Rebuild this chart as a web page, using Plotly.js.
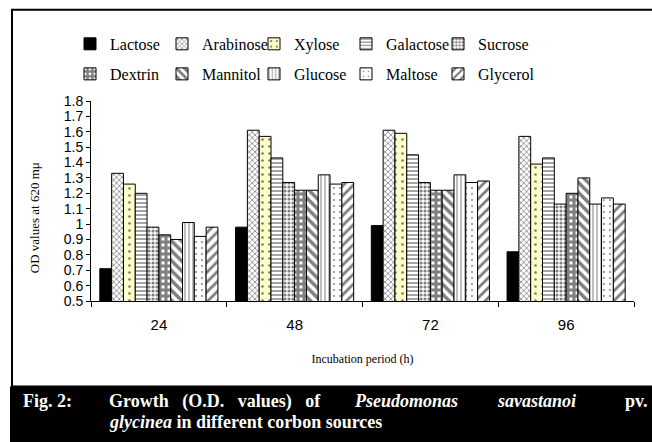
<!DOCTYPE html>
<html>
<head>
<meta charset="utf-8">
<script src="https://cdn.plot.ly/plotly-3.0.1.min.js"></script>
<style>html,body{margin:0;padding:0;background:#fff;}#chart{width:652px;height:442px;}</style>
</head>
<body>
<div id="chart"></div>
<script>
// Data
var periods = ['24', '48', '72', '96'];
var sources = ['Lactose', 'Arabinose', 'Xylose', 'Galactose', 'Sucrose',
               'Dextrin', 'Mannitol', 'Glucose', 'Maltose', 'Glycerol'];
var lactose   = [0.71, 0.98, 0.99, 0.82];
var arabinose = [1.33, 1.61, 1.61, 1.57];
var xylose    = [1.26, 1.57, 1.59, 1.39];
var galactose = [1.20, 1.43, 1.45, 1.43];
var sucrose   = [0.98, 1.27, 1.27, 1.13];
var dextrin   = [0.93, 1.22, 1.22, 1.20];
var mannitol  = [0.90, 1.22, 1.22, 1.30];
var glucose   = [1.01, 1.32, 1.32, 1.13];
var maltose   = [0.92, 1.26, 1.27, 1.17];
var glycerol  = [0.98, 1.27, 1.28, 1.13];
var yTickVals = [0.5,0.6,0.7,0.8,0.9,1.0,1.1,1.2,1.3,1.4,1.5,1.6,1.7,1.8];
var yTickText = ['0.5','0.6','0.7','0.8','0.9','1','1.1','1.2','1.3','1.4','1.5','1.6','1.7','1.8'];

var series = [lactose, arabinose, xylose, galactose, sucrose, dextrin, mannitol, glucose, maltose, glycerol];
var styles = [
  {bg:'#000000', shape:'',  size:8, sol:0.3},
  {bg:'#ffffff', shape:'x', size:4, sol:0.35},
  {bg:'#ffffcc', shape:'.', size:7, sol:0.12},
  {bg:'#ffffff', shape:'-', size:4, sol:0.35},
  {bg:'#ffffff', shape:'.', size:4, sol:0.5},
  {bg:'#ffffff', shape:'+', size:6, sol:0.75},
  {bg:'#ffffff', shape:'\\', size:7, sol:0.5},
  {bg:'#ffffff', shape:'|', size:4, sol:0.25},
  {bg:'#ffffff', shape:'.', size:6, sol:0.08},
  {bg:'#ffffff', shape:'/', size:7, sol:0.4}
];
var legendOf = ['legend','legend','legend','legend','legend',
                'legend2','legend2','legend2','legend2','legend3'];

var traces = sources.map(function(name, i){
  var st = styles[i];
  return {
    type: 'bar',
    name: name,
    x: periods,
    y: series[i],
    legend: legendOf[i],
    marker: {
      color: st.bg,
      line: {color: '#000', width: 1},
      pattern: {shape: st.shape, fgcolor: '#000', bgcolor: st.bg, size: st.size, solidity: st.sol, fillmode: 'overlay'}
    },
    hoverinfo: 'skip'
  };
});

var L = 91, R = 634, T = 101, B = 300.7;
var W = R - L, H = B - T;
function px(x){ return (x - L) / W; }
function py(y){ return (B - y) / H; }

var SERIF = 'Liberation Serif, Times New Roman, serif';
var SANS = 'Liberation Sans, Arial, sans-serif';

var legendCommon = {
  orientation: 'h', xanchor: 'left', yanchor: 'middle',
  font: {family: SERIF, size: 16, color: '#000'},
  bgcolor: 'rgba(0,0,0,0)', borderwidth: 0,
  entrywidth: 47, entrywidthmode: 'pixels', itemwidth: 30, traceorder: 'normal'
};

var capFont = {family: SERIF, size: 18, color: '#fff'};
var sp = '\u00A0';

var layout = {
  width: 652, height: 442,
  margin: {l: L, r: 652 - R, t: T, b: 442 - B},
  paper_bgcolor: '#fff', plot_bgcolor: '#fff',
  barmode: 'group', bargap: 0.13, bargroupgap: 0,
  showlegend: true,
  legend: Object.assign({x: px(70), y: py(44)}, legendCommon),
  legend2: Object.assign({x: px(70), y: py(74)}, legendCommon),
  legend3: Object.assign({}, legendCommon, {x: px(70 + 4 * 92), y: py(74), entrywidth: 0}),
  xaxis: {
    type: 'category', showgrid: false, zeroline: false,
    showline: true, linecolor: '#000', linewidth: 1,
    ticks: 'outside', tickson: 'boundaries', ticklen: 5, tickcolor: '#000',
    tickfont: {family: SANS, size: 15, color: '#000'},
    ticklabelstandoff: 10,
    title: {text: 'Incubation period (h)', font: {family: SERIF, size: 12, color: '#000'}, standoff: 22},
    automargin: false, fixedrange: true
  },
  yaxis: {
    range: [0.5, 1.8], showgrid: false, zeroline: false,
    showline: true, linecolor: '#000', linewidth: 1,
    ticks: 'outside', ticklen: 4, tickcolor: '#000',
    tickvals: yTickVals, ticktext: yTickText,
    tickfont: {family: SANS, size: 14, color: '#000'},
    automargin: false, fixedrange: true
  },
  shapes: [
    {type: 'rect', xref: 'paper', yref: 'paper', x0: px(12), x1: px(670), y0: py(386), y1: py(10),
     line: {color: '#000', width: 2}, fillcolor: 'rgba(0,0,0,0)', layer: 'below'},
    {type: 'rect', xref: 'paper', yref: 'paper', x0: px(10), x1: px(670), y0: py(450), y1: py(386),
     line: {width: 0}, fillcolor: '#000', layer: 'above'}
  ],
  annotations: [
    {text: 'OD values at 620 mμ', xref: 'paper', yref: 'paper', x: px(34), y: py(218),
     textangle: -90, showarrow: false, xanchor: 'center', yanchor: 'middle',
     font: {family: SERIF, size: 13, color: '#000'}},
    {text: '<b>Fig. 2:</b>', xref: 'paper', yref: 'paper', x: px(21), y: py(401),
     showarrow: false, xanchor: 'left', yanchor: 'middle', font: capFont},
    {text: '<b>Growth' + sp + sp + sp + '(O.D.' + sp + sp + sp + 'values)' + sp + sp + sp + 'of</b>', xref: 'paper', yref: 'paper', x: px(107), y: py(401),
     showarrow: false, xanchor: 'left', yanchor: 'middle', font: capFont},
    {text: '<b><i>Pseudomonas</i></b>', xref: 'paper', yref: 'paper', x: px(352), y: py(401),
     showarrow: false, xanchor: 'left', yanchor: 'middle', font: capFont},
    {text: '<b><i>savastanoi</i></b>', xref: 'paper', yref: 'paper', x: px(495), y: py(401),
     showarrow: false, xanchor: 'left', yanchor: 'middle', font: capFont},
    {text: '<b>pv.</b>', xref: 'paper', yref: 'paper', x: px(650), y: py(401),
     showarrow: false, xanchor: 'right', yanchor: 'middle', font: capFont},
    {text: '<b><i>glycinea</i> in different corbon sources</b>', xref: 'paper', yref: 'paper', x: px(107), y: py(422),
     showarrow: false, xanchor: 'left', yanchor: 'middle', font: capFont}
  ]
};

Plotly.newPlot('chart', traces, layout, {staticPlot: true, displayModeBar: false});
</script>
</body>
</html>
